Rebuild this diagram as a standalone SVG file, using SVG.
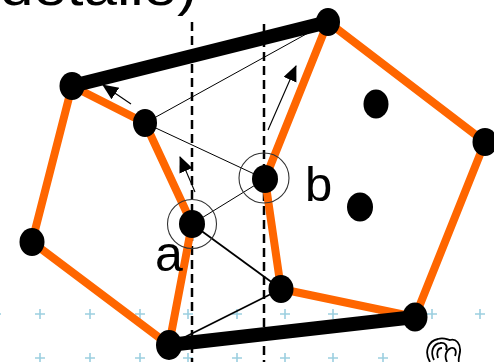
<svg xmlns="http://www.w3.org/2000/svg" width="494" height="362" viewBox="0 0 494 362">
<defs>
<style>
.grid{stroke:#9ccfe0;stroke-width:1.6;fill:none}
.dash{stroke:#000;stroke-width:2.5;stroke-dasharray:9 5;fill:none}
.edge{stroke:#ff6600;stroke-width:8;stroke-linecap:round;fill:none}
.thick{stroke:#000;stroke-width:14;stroke-linecap:round;fill:none}
.thin{stroke:#000;stroke-width:1;fill:none}
.med{stroke:#000;stroke-width:1.8;fill:none}
.arr{stroke:#000;stroke-width:1.1;fill:none;marker-end:url(#ah)}
.node{fill:#000}
.ring{fill:none;stroke:#333;stroke-width:1.1}
.lbl{font-family:"Liberation Sans",Arial,sans-serif;fill:#000}
</style>
<marker id="ah" markerUnits="userSpaceOnUse" markerWidth="18" markerHeight="16" refX="15" refY="7" orient="auto">
<path d="M0,0 L16,7 L0,14 Z" fill="#000"/>
</marker>
<path id="plus" d="M-5,0 H5 M0,-5 V5"/>
</defs>
<rect width="494" height="362" fill="#fff"/>
<g id="grid" class="grid">
<use href="#plus" x="-4" y="314"/><use href="#plus" x="40" y="314"/><use href="#plus" x="90" y="314"/><use href="#plus" x="140" y="314"/><use href="#plus" x="188" y="314"/><use href="#plus" x="237" y="314"/><use href="#plus" x="285" y="314"/><use href="#plus" x="333" y="314"/><use href="#plus" x="383" y="314"/><use href="#plus" x="432" y="314"/><use href="#plus" x="480" y="314"/>
<use href="#plus" x="40" y="358"/><use href="#plus" x="90" y="358"/><use href="#plus" x="140" y="358"/><use href="#plus" x="188" y="358"/><use href="#plus" x="237" y="358"/><use href="#plus" x="285" y="358"/><use href="#plus" x="333" y="358"/><use href="#plus" x="383" y="358"/>
</g>
<text class="lbl" x="0" y="5" font-size="52" textLength="197" lengthAdjust="spacingAndGlyphs">detalle)</text>
<g id="connectors">
<line class="dash" x1="192" y1="22" x2="192" y2="362"/>
<line class="dash" x1="264" y1="24" x2="264" y2="362"/>
<line class="edge" x1="328" y1="22" x2="485" y2="142"/>
<line class="edge" x1="485" y1="142" x2="415" y2="317"/>
<line class="edge" x1="415" y1="317" x2="281" y2="289"/>
<line class="edge" x1="281" y1="289" x2="265" y2="179"/>
<line class="edge" x1="265" y1="179" x2="328" y2="22"/>
<line class="edge" x1="72" y1="86" x2="145" y2="123"/>
<line class="edge" x1="145" y1="123" x2="192" y2="224"/>
<line class="edge" x1="192" y1="224" x2="169" y2="345"/>
<line class="edge" x1="169" y1="345" x2="32" y2="242"/>
<line class="edge" x1="32" y1="242" x2="72" y2="86"/>
<line class="thin" x1="145" y1="123" x2="328" y2="22"/>
<line class="thin" x1="145" y1="123" x2="265" y2="179"/>
<line class="thin" x1="192" y1="224" x2="265" y2="179"/>
<line class="med" x1="192" y1="224" x2="281" y2="289"/>
<line class="med" x1="169" y1="345" x2="281" y2="289"/>
<line class="thick" x1="72" y1="86" x2="328" y2="22"/>
<line class="thick" x1="169" y1="345" x2="415" y2="317"/>
<line class="arr" x1="131" y1="104" x2="103" y2="85"/>
<line class="arr" x1="195" y1="192" x2="180" y2="157"/>
<line class="arr" x1="268" y1="130" x2="296" y2="66"/>
</g>
<g id="P1"><ellipse class="node" cx="328" cy="22" rx="12" ry="14"/></g>
<g id="P2"><ellipse class="node" cx="72" cy="86" rx="12.5" ry="14"/></g>
<g id="P3"><ellipse class="node" cx="145" cy="123" rx="12" ry="14"/></g>
<g id="P4"><ellipse class="node" cx="32" cy="242" rx="12.5" ry="14"/></g>
<g id="P5"><ellipse class="node" cx="169" cy="345" rx="13" ry="15"/></g>
<g id="P6"><ellipse class="node" cx="415" cy="317" rx="12.5" ry="14.5"/></g>
<g id="P7"><ellipse class="node" cx="281" cy="289" rx="12.5" ry="14"/></g>
<g id="P8"><ellipse class="node" cx="485" cy="142" rx="12.5" ry="14"/></g>
<g id="a"><circle class="ring" cx="192" cy="224" r="24.5"/><ellipse class="node" cx="192" cy="224" rx="13" ry="14"/><text class="lbl" x="155" y="271" font-size="50">a</text></g>
<g id="b"><circle class="ring" cx="264" cy="178" r="25"/><ellipse class="node" cx="265" cy="179" rx="13" ry="14"/><text class="lbl" x="305" y="201" font-size="49">b</text></g>
<g id="D1"><ellipse class="node" cx="376" cy="104" rx="12.5" ry="14.5"/></g>
<g id="D2"><ellipse class="node" cx="360" cy="207" rx="13" ry="14.5"/></g>
<g id="icon" fill="none" stroke="#000" stroke-width="1.8">
<path d="M430,362 C424,352 428,341 438,339 C444,337 448,340 450,340 C456,338 461,344 460,352 C459,357 458,360 459,362"/>
<path d="M434,360 C430,352 433,344 440,343 C445,342 448,346 446,350"/>
<path d="M438,358 C436,352 438,348 442,348"/>
<path d="M447,362 C444,356 446,350 451,348 C455,347 457,351 455,356"/>
</g>
</svg>
